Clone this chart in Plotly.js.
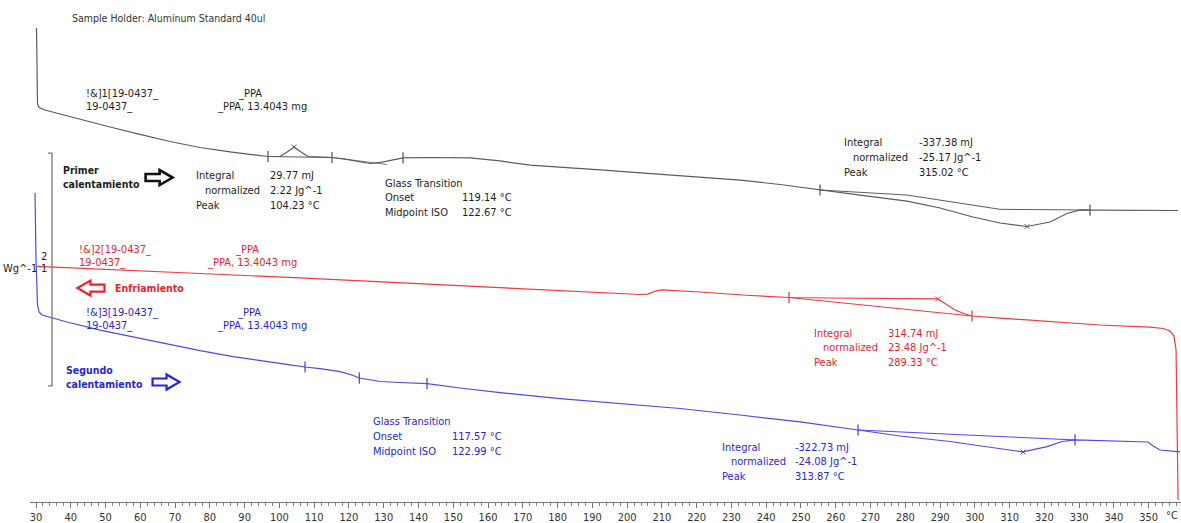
<!DOCTYPE html>
<html>
<head>
<meta charset="utf-8">
<script src="https://cdn.plot.ly/plotly-3.0.1.min.js"></script>
<style>
  html, body { margin: 0; padding: 0; background: #fff; }
  #chart { width: 1181px; height: 523px; }
</style>
</head>
<body>
<div id="chart"></div>
<script>
// DSC run 19-0437 PPA, 13.4043 mg — heat / cool / heat, temperature in °C, heat flow in W/g (curves offset)

// First heating (black)
const heat1T = [30.14,30.23,30.43,30.86,32.59,36.90,42.65,51.28,59.91,68.54,77.17,85.79,96.72,100.17,102.19,104.23,106.21,108.23,111.68,115.13,118.87,122.61,126.06,129.51,133.25,135.55,143.32,154.82,163.45,172.08,192.21,215.22,232.47,243.97,255.48,266.98,280.50,289.99,299.48,307.25,315.02,321.63,326.52,330.26,333.13,344.64,358.45];
const heat1W = [21.0,15.42,14.67,14.38,14.17,13.83,13.38,12.75,12.13,11.54,11.04,10.67,10.29,10.29,10.67,11.08,10.67,10.29,10.25,10.21,10.08,9.88,9.71,9.83,10.08,10.17,10.21,10.17,9.92,9.58,9.17,8.67,8.33,7.96,7.50,7.08,6.58,6.00,5.25,4.75,4.46,4.83,5.54,5.85,5.83,5.83,5.79];

// Cooling (red)
const coolT = [30.29,48.41,77.17,105.93,134.69,163.45,192.21,203.71,206.01,208.03,210.04,220.97,235.35,246.56,258.36,269.86,281.36,287.11,289.33,291.43,294.31,297.18,299.19,307.25,321.63,336.01,350.39,354.13,356.14,357.29,357.87,358.16,358.45];
const coolW = [1.13,0.92,0.54,0.17,-0.25,-0.67,-1.04,-1.21,-1.17,-0.92,-0.83,-1.00,-1.29,-1.46,-1.50,-1.53,-1.57,-1.54,-1.58,-1.96,-2.50,-2.83,-3.00,-3.17,-3.46,-3.75,-3.92,-4.04,-4.25,-4.67,-5.83,-11.67,-18.33];

// Second heating (blue)
const heat2T = [29.71,30.00,30.43,30.86,31.73,38.92,48.41,57.90,67.68,77.17,86.66,96.44,103.05,107.37,111.68,117.43,120.88,122.99,126.06,128.94,134.69,142.45,151.94,163.45,180.70,197.96,215.22,232.47,249.73,266.41,278.49,292.87,304.37,313.87,320.76,325.08,328.82,336.01,347.52,349.82,351.26,353.27,359.02];
const heat2W = [7.25,1.67,-2.08,-2.67,-2.92,-3.50,-4.17,-4.75,-5.33,-5.88,-6.38,-6.83,-7.08,-7.25,-7.38,-7.63,-7.92,-8.17,-8.33,-8.46,-8.54,-8.63,-9.00,-9.38,-9.88,-10.29,-10.71,-11.25,-11.83,-12.50,-13.00,-13.46,-13.92,-14.33,-13.88,-13.46,-13.33,-13.38,-13.46,-13.50,-13.83,-14.17,-14.33];

// Integration baselines
const heat1BaseAT = [96.72, 115.13];
const heat1BaseAW = [10.29, 10.21];
const heat1BaseBT = [255.48, 280.50, 307.25, 330.26, 333.13];
const heat1BaseBW = [7.50, 7.08, 5.89, 5.85, 5.83];
const heat1TangentT = [115.13, 131.0];
const heat1TangentW = [10.21, 9.62];
const coolBaseT = [246.56, 299.19];
const coolBaseW = [-1.46, -3.00];
const heat2BaseT = [266.41, 328.82];
const heat2BaseW = [-12.50, -13.33];

// Evaluation limits
const heat1LimitT = [96.72, 115.13, 135.55, 255.48, 333.13];
const heat1LimitW = [10.29, 10.21, 10.17, 7.50, 5.83];
const coolLimitT = [246.56, 299.19];
const coolLimitW = [-1.46, -3.00];
const heat2LimitT = [107.37, 122.99, 142.45, 266.41, 328.82];
const heat2LimitW = [-7.25, -8.17, -8.63, -12.50, -13.33];

// Peak evaluation results: first heating (two), cooling, second heating
const integralMJ = [29.77, -337.38, 314.74, -322.73];
const normalizedJg = [2.22, -25.17, 23.48, -24.08];
const peakTemp = [104.23, 315.02, 289.33, 313.87];
const peakW = [11.08, 4.46, -1.58, -14.33];

// Glass transition results: first heating, second heating
const tgOnset = [119.14, 117.57];
const tgMidpoint = [122.67, 122.99];

// Axis ticks
const tempTicks = [30,40,50,60,70,80,90,100,110,120,130,140,150,160,170,180,190,200,210,220,230,240,250,260,270,280,290,300,310,320,330,340,350];
const flowTicks = [1, 2];

const BLACK = '#5c5c5c', BLACK_TXT = '#1e1e1e';
const RED = '#ee3a3a', RED_TXT = '#e3262c';
const BLUE = '#4b4be6', BLUE_TXT = '#2626d4';
const FONT = "'DejaVu Sans Condensed', 'DejaVu Sans', sans-serif";

function line(x, y, color, width) {
  return { x, y, type: 'scatter', mode: 'lines', line: { color, width: width || 1.2 }, hoverinfo: 'skip' };
}
function limits(x, y, color) {
  return { x, y, type: 'scatter', mode: 'markers', hoverinfo: 'skip',
    marker: { symbol: 'line-ns-open', size: 8, color, line: { color, width: 1.3 } } };
}
function peaks(x, y, color) {
  return { x, y, type: 'scatter', mode: 'markers', hoverinfo: 'skip',
    marker: { symbol: 'x-thin-open', size: 5, color, line: { color, width: 1 } } };
}

const traces = [
  line(heat1T, heat1W, BLACK),
  line(heat1BaseAT, heat1BaseAW, BLACK, 1),
  line(heat1BaseBT, heat1BaseBW, BLACK, 1),
  line(heat1TangentT, heat1TangentW, BLACK, 0.8),
  limits(heat1LimitT, heat1LimitW, BLACK),
  peaks(peakTemp.slice(0, 2), peakW.slice(0, 2), BLACK),

  line(coolT, coolW, RED),
  line(coolBaseT, coolBaseW, RED, 1),
  limits(coolLimitT, coolLimitW, RED),
  peaks([peakTemp[2]], [peakW[2]], RED),

  line(heat2T, heat2W, BLUE),
  line(heat2BaseT, heat2BaseW, BLUE, 1),
  limits(heat2LimitT, heat2LimitW, BLUE),
  peaks([peakTemp[3]], [peakW[3]], BLUE)
];

const annotations = [];
function txt(x, y, text, color, size, extra) {
  annotations.push(Object.assign({
    x, y, xref: 'x', yref: 'y', text, showarrow: false,
    xanchor: 'left', yanchor: 'middle',
    font: { family: FONT, size: size || 11, color }
  }, extra || {}));
}

const ROW = 1.22;       // line spacing in W/g
const INDENT = 2.6;     // indent of the "normalized" row in °C

function peakBlock(i, xLabel, xValue, yTop, color) {
  txt(xLabel, yTop, 'Integral', color);
  txt(xLabel + INDENT, yTop - ROW, 'normalized', color);
  txt(xLabel, yTop - 2 * ROW, 'Peak', color);
  txt(xValue, yTop, integralMJ[i].toFixed(2) + ' mJ', color);
  txt(xValue, yTop - ROW, normalizedJg[i].toFixed(2) + ' Jg^-1', color);
  txt(xValue, yTop - 2 * ROW, peakTemp[i].toFixed(2) + ' °C', color);
}
function tgBlock(i, xLabel, xValue, yTop, color) {
  txt(xLabel, yTop, 'Glass Transition', color);
  txt(xLabel, yTop - ROW, 'Onset', color);
  txt(xLabel, yTop - 2 * ROW, 'Midpoint ISO', color);
  txt(xValue, yTop - ROW, tgOnset[i].toFixed(2) + ' °C', color);
  txt(xValue, yTop - 2 * ROW, tgMidpoint[i].toFixed(2) + ' °C', color);
}
function sampleBlock(n, xLeft, xRight1, xRight2, yTop, color) {
  txt(xLeft, yTop, '!&]' + n + '[19-0437_', color);
  txt(xLeft, yTop - 1.1, '19-0437_', color);
  txt(xRight1, yTop, '_PPA', color);
  txt(xRight2, yTop - 1.1, '_PPA, 13.4043 mg', color);
}

txt(39.78, 21.83, 'Sample Holder: Aluminum Standard 40ul', '#333', 10.5);

sampleBlock(1, 43.8, 87.5, 81.5, 15.58, BLACK_TXT);
sampleBlock(2, 41.8, 86.7, 78.6, 2.58, RED_TXT);
sampleBlock(3, 43.8, 87.2, 81.5, -2.67, BLUE_TXT);

txt(37.2, 9.13, '<b>Primer</b>', BLACK_TXT, 10.5);
txt(37.2, 7.96, '<b>calentamiento</b>', BLACK_TXT, 10.5);
txt(52.2, -0.67, '<b>Enfriamiento</b>', RED_TXT, 10.5);
txt(38.0, -7.5, '<b>Segundo</b>', BLUE_TXT, 10.5);
txt(38.0, -8.67, '<b>calentamiento</b>', BLUE_TXT, 10.5);

peakBlock(0, 75.4, 96.7, 8.67, BLACK_TXT);
tgBlock(0, 129.8, 151.9, 8.08, BLACK_TXT);
peakBlock(1, 261.8, 283.4, 11.42, BLACK_TXT);
peakBlock(2, 253.2, 274.5, -4.42, RED_TXT);
tgBlock(1, 126.3, 149.1, -11.83, BLUE_TXT);
peakBlock(3, 226.7, 247.7, -13.92, BLUE_TXT);

// Heat-flow scale labels
flowTicks.forEach(v => txt(31.0, v, String(v), '#222', 11));
txt(31.0, flowTicks[0], 'Wg^-1', '#222', 11, { xanchor: 'right' });

// Unit at the end of the temperature axis
annotations.push({ x: 356.7, y: -0.026, xref: 'x', yref: 'paper', text: '°C', showarrow: false,
  xanchor: 'center', yanchor: 'middle', font: { family: FONT, size: 11, color: '#333' } });

function arrow(x, y, dir, color, width) {
  const s = dir;  // 1 = pointing right, -1 = pointing left
  const p = [[-13.5, -3.5], [0.5, -3.5], [0.5, -7.5], [13.5, 0], [0.5, 7.5], [0.5, 3.5], [-13.5, 3.5]]
    .map(([a, b], k) => (k ? 'L' : 'M') + (a * s) + ',' + b).join(' ') + ' Z';
  return { type: 'path', xref: 'x', yref: 'y', xsizemode: 'pixel', ysizemode: 'pixel',
    xanchor: x, yanchor: y, path: p, line: { color, width }, fillcolor: 'white', layer: 'above' };
}

const shapes = [
  // bracket grouping the three segments
  { type: 'path', xref: 'x', yref: 'y', path: 'M33.45,10.58 L34.6,10.58 L34.6,-8.83 L33.45,-8.83',
    line: { color: '#777', width: 1.3 } },
  arrow(65.4, 8.54, 1, '#111', 2.6),
  arrow(45.8, -0.67, -1, RED_TXT, 2.2),
  arrow(67.4, -8.5, 1, BLUE_TXT, 2.2)
];

const layout = {
  width: 1181, height: 523,
  margin: { l: 30, r: 0, t: 0, b: 21 },
  paper_bgcolor: '#fff', plot_bgcolor: '#fff',
  showlegend: false,
  font: { family: FONT, size: 11, color: '#333' },
  xaxis: {
    range: [28.27, 359.29], showgrid: false, zeroline: false,
    showline: true, linecolor: '#777', linewidth: 1,
    ticks: 'outside', ticklen: 5, tickcolor: '#777', tickwidth: 1,
    tickmode: 'array', tickvals: tempTicks, ticktext: tempTicks.map(String),
    tickfont: { family: FONT, size: 11, color: '#333' },
    minor: { tickmode: 'linear', tick0: 30, dtick: 2, ticks: 'outside', ticklen: 3, tickcolor: '#888', showgrid: false },
    fixedrange: true
  },
  yaxis: { range: [-18.5, 23.333], visible: false, fixedrange: true },
  annotations, shapes
};

Plotly.newPlot('chart', traces, layout, { displayModeBar: false, staticPlot: true });
</script>
</body>
</html>
